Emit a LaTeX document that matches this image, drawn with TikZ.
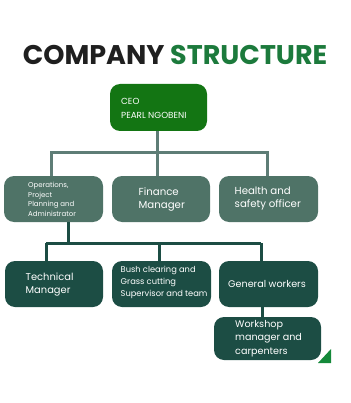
\documentclass[tikz,border=0pt]{standalone}
\usepackage{fontspec}
\setmainfont{Poppins}
\usepackage{xcolor}
\usetikzlibrary{positioning}
\definecolor{ceogreen}{HTML}{137513}
\definecolor{midteal}{HTML}{4F7367}
\definecolor{darkteal}{HTML}{1C4D44}
\definecolor{linkgray}{HTML}{5E7D76}
\definecolor{titlegreen}{HTML}{1C7A3C}
\definecolor{cornergreen}{HTML}{14893A}
\tikzset{
  box/.style={rounded corners=10pt,text=white,align=left,inner sep=0pt},
  ceobox/.style={box,fill=ceogreen,minimum width=97pt,minimum height=47pt},
  midbox/.style={box,fill=midteal,minimum width=99pt,minimum height=46pt},
  lowbox/.style={box,fill=darkteal,minimum width=99pt,minimum height=46pt},
  link/.style={draw=linkgray,line width=3pt},
  sublink/.style={draw=darkteal,line width=3pt},
}

\begin{document}
\begin{tikzpicture}[x=1pt,y=-1pt]
  \useasboundingbox (0,0) rectangle (350,403);
  % title
  \node[font=\bfseries\fontsize{27}{30}\selectfont] (title) at (175,55)
    {\textcolor{black!88}{COMPANY} \textcolor{titlegreen}{STRUCTURE}};
  % connectors
  \coordinate (bus1) at (157,153);
  \coordinate (bus2) at (68,243);
  \coordinate (b2l) at (46,243);
  \coordinate (b2r) at (261,243);
  \coordinate (ws) at (262,307);
  % boxes
  \node[ceobox] (ceo) at (158.5,107.5) {};
  \node[midbox] (ops) at (53.5,199) {};
  \node[midbox,minimum width=98pt] (fin) at (161,199) {};
  \node[midbox] (hs) at (268.5,199) {};
  \node[lowbox,minimum width=98pt] (tech) at (54,284) {};
  \node[lowbox] (bush) at (161.5,284) {};
  \node[lowbox] (gen) at (268.5,284) {};
  \node[lowbox,minimum width=107pt,minimum height=43pt] (shop) at (267.5,338.5) {};
  \draw[link] (ceo.south -| bus1) -- (bus1);
  \draw[link] (ops.north -| 51,0) |- (bus1);
  \draw[link] (hs.north -| 267,0) |- (bus1);
  \draw[link] (bus1) -- (bus1 |- fin.north);
  \draw[sublink] (ops.south -| bus2) -- (bus2);
  \draw[sublink] (b2l) -- (b2r);
  \draw[sublink] (b2l) -- (b2l |- tech.north);
  \draw[sublink] (b2r) -- (b2r |- gen.north);
  \draw[sublink] (bush.north -| 159,0) -- (159,243);
  \draw[sublink] (gen.south -| ws) -- (ws |- shop.north);
  % labels
  \node[box,anchor=west,font=\fontsize{8.8}{14}\selectfont] (ceot) at (121,108)
    {CEO\\PEARL NGOBENI};
  \node[box,anchor=west,font=\fontsize{7}{9.7}\selectfont] (opst) at (28,199.5)
    {Operations,\\Project\\Planning and\\Administrator};
  \node[box,anchor=west,font=\fontsize{10.2}{13}\selectfont] (fint) at (138.5,199)
    {Finance\\Manager};
  \node[box,anchor=west,font=\fontsize{10.2}{13}\selectfont] (hst) at (234.5,199)
    {Health and\\safety officer};
  \node[box,anchor=west,font=\fontsize{9.9}{13.5}\selectfont] (techt) at (25.5,284.5)
    {Technical\\Manager};
  \node[box,anchor=west,font=\fontsize{8.3}{12}\selectfont] (busht) at (120.5,282.5)
    {Bush clearing and\\Grass cutting\\Supervisor and team};
  \node[box,anchor=west,font=\fontsize{9.6}{12}\selectfont] (gent) at (228,284)
    {General workers};
  \node[box,anchor=west,font=\fontsize{9.6}{13.4}\selectfont] (shopt) at (235,338.5)
    {Workshop\\manager and\\carpenters};
  % corner mark
  \fill[cornergreen] (318,363) -- (331,363) -- (331,349) -- cycle;
\end{tikzpicture}
\end{document}
